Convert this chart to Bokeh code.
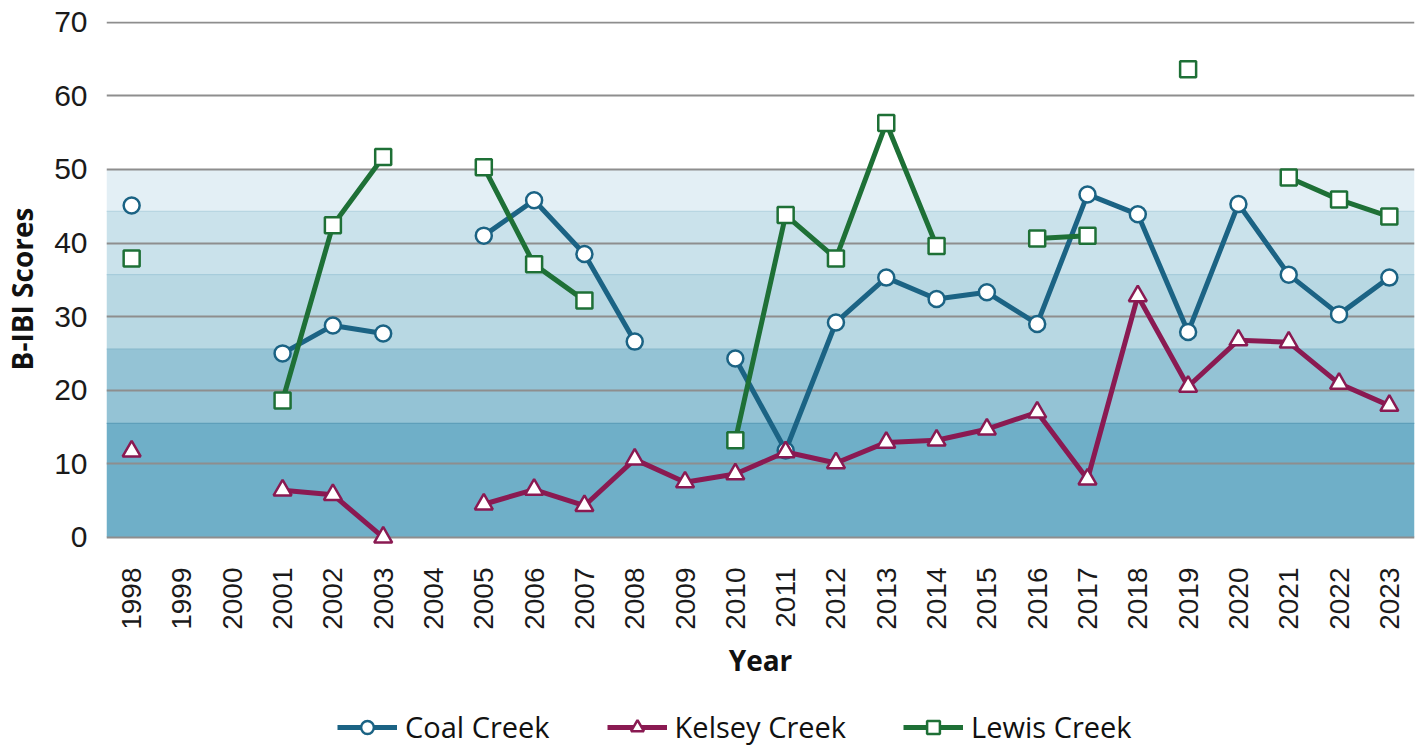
import math
from bokeh.plotting import figure
from bokeh.layouts import column
from bokeh.models import Legend, LegendItem, FixedTicker, Span, BoxAnnotation, Range1d
from bokeh.embed import file_html
from bokeh.resources import INLINE

nan = float("nan")

years = list(range(1998, 2024))
coal_creek = [45.1, nan, nan, 25.0, 28.8, 27.7, nan, 41.0, 45.8, 38.5, 26.6, nan,
              24.3, 11.8, 29.2, 35.3, 32.4, 33.3, 29.0, 46.6, 43.9, 27.9, 45.3,
              35.7, 30.3, 35.3]
kelsey_creek = [11.7, nan, nan, 6.4, 5.8, 0.0, nan, 4.5, 6.5, 4.3, 10.6, 7.5,
                8.6, 11.6, 10.1, 12.9, 13.2, 14.7, 17.0, 7.9, 32.8, 20.5, 26.8,
                26.5, 20.9, 17.9]
lewis_creek = [37.9, nan, nan, 18.6, 42.4, 51.7, nan, 50.3, 37.1, 32.2, nan, nan,
               13.2, 43.8, 37.9, 56.3, 39.6, nan, 40.6, 41.0, nan, 63.6, nan,
               48.9, 45.9, 43.6]

y_ticks = [0, 10, 20, 30, 40, 50, 60, 70]
band_bottoms = [0, 15.5, 25.6, 35.7, 44.3]
band_tops = [15.5, 25.6, 35.7, 44.3, 50]
band_colors = ["#6FAFC8", "#94C3D5", "#B8D8E3", "#CAE2EB", "#E3EFF5"]
band_edge_colors = ["#5E9FBA", "#86B8CC", "#A6CCDB", "#B8D6E2"]

COAL = "#1B6384"
KELSEY = "#8A1A52"
LEWIS = "#1E7036"

p = figure(width=1420, height=700, output_backend="svg", toolbar_location=None,
           x_range=Range1d(1997.5, 2023.5), y_range=Range1d(-2.6, 70.1),
           min_border_left=105, min_border_right=6, min_border_top=21,
           min_border_bottom=144)
p.outline_line_color = None
p.background_fill_color = "white"

for b, t, c in zip(band_bottoms, band_tops, band_colors):
    p.add_layout(BoxAnnotation(bottom=b, top=t, fill_color=c, fill_alpha=1.0,
                               line_color=None, level="image"))
for b, c in zip(band_bottoms[1:], band_edge_colors):
    p.add_layout(Span(location=b, dimension="width", line_color=c,
                      line_width=1.2, level="image"))

p.xgrid.visible = False
p.ygrid.ticker = FixedTicker(ticks=y_ticks)
p.ygrid.grid_line_color = "#8E8E8E"
p.ygrid.grid_line_width = 1.8

# axes
p.yaxis.ticker = FixedTicker(ticks=y_ticks)
p.yaxis.axis_line_color = None
p.yaxis.major_tick_line_color = None
p.yaxis.minor_tick_line_color = None
p.yaxis.major_label_text_font = "Liberation Sans"
p.yaxis.major_label_text_font_size = "30px"
p.yaxis.major_label_text_color = "#1a1a1a"
p.yaxis.major_label_standoff = 13
p.yaxis.axis_label = "B-IBI Scores"
p.yaxis.axis_label_text_font = "Open Sans"
p.yaxis.axis_label_text_font_style = "bold"
p.yaxis.axis_label_text_font_size = "28px"
p.yaxis.axis_label_text_color = "#111111"
p.yaxis.axis_label_standoff = 10

p.xaxis.ticker = FixedTicker(ticks=years)
p.xaxis.axis_line_color = None
p.xaxis.major_tick_line_color = None
p.xaxis.minor_tick_line_color = None
p.xaxis.major_label_orientation = math.pi / 2
p.xaxis.major_label_text_font = "Liberation Sans"
p.xaxis.major_label_text_font_size = "28px"
p.xaxis.major_label_text_color = "#1a1a1a"
p.xaxis.major_label_standoff = 5
p.xaxis.axis_label = "Year"
p.xaxis.axis_label_text_font = "Open Sans"
p.xaxis.axis_label_text_font_style = "bold"
p.xaxis.axis_label_text_font_size = "28px"
p.xaxis.axis_label_text_color = "#111111"
p.xaxis.axis_label_standoff = 8

series = [
    ("Coal Creek", coal_creek, COAL, "circle", 16),
    ("Kelsey Creek", kelsey_creek, KELSEY, "triangle", 18),
    ("Lewis Creek", lewis_creek, LEWIS, "square", 16),
]
for name, vals, col, mk, sz in series:
    p.line(years, vals, line_color=col, line_width=5)
    p.scatter(years, vals, marker=mk, size=sz, fill_color="white",
              line_color=col, line_width=2.5)

# legend strip below the chart (its renderers lie outside this strip's view)
pl = figure(width=1420, height=48, output_backend="svg", toolbar_location=None,
            x_axis_type=None, y_axis_type=None, min_border=0,
            x_range=Range1d(1997.5, 2023.5), y_range=Range1d(-1000, -999))
pl.outline_line_color = None
items = []
for name, vals, col, mk, sz in series:
    ln = pl.line(years, vals, line_color=col, line_width=5)
    sc = pl.scatter(years, vals, marker=mk, size=sz, fill_color="white",
                    line_color=col, line_width=2.5)
    items.append(LegendItem(label=name, renderers=[ln, sc]))
legend = Legend(items=items, orientation="horizontal", location=(231, 2),
                glyph_width=60, glyph_height=32, label_standoff=8, spacing=57,
                label_text_font="Open Sans", label_text_font_size="29px",
                label_text_color="#111111", border_line_color=None,
                background_fill_alpha=0, padding=0, margin=0)
pl.add_layout(legend, "center")

layout = column(p, pl, spacing=0)
open("out.html", "w").write(file_html(layout, INLINE))
